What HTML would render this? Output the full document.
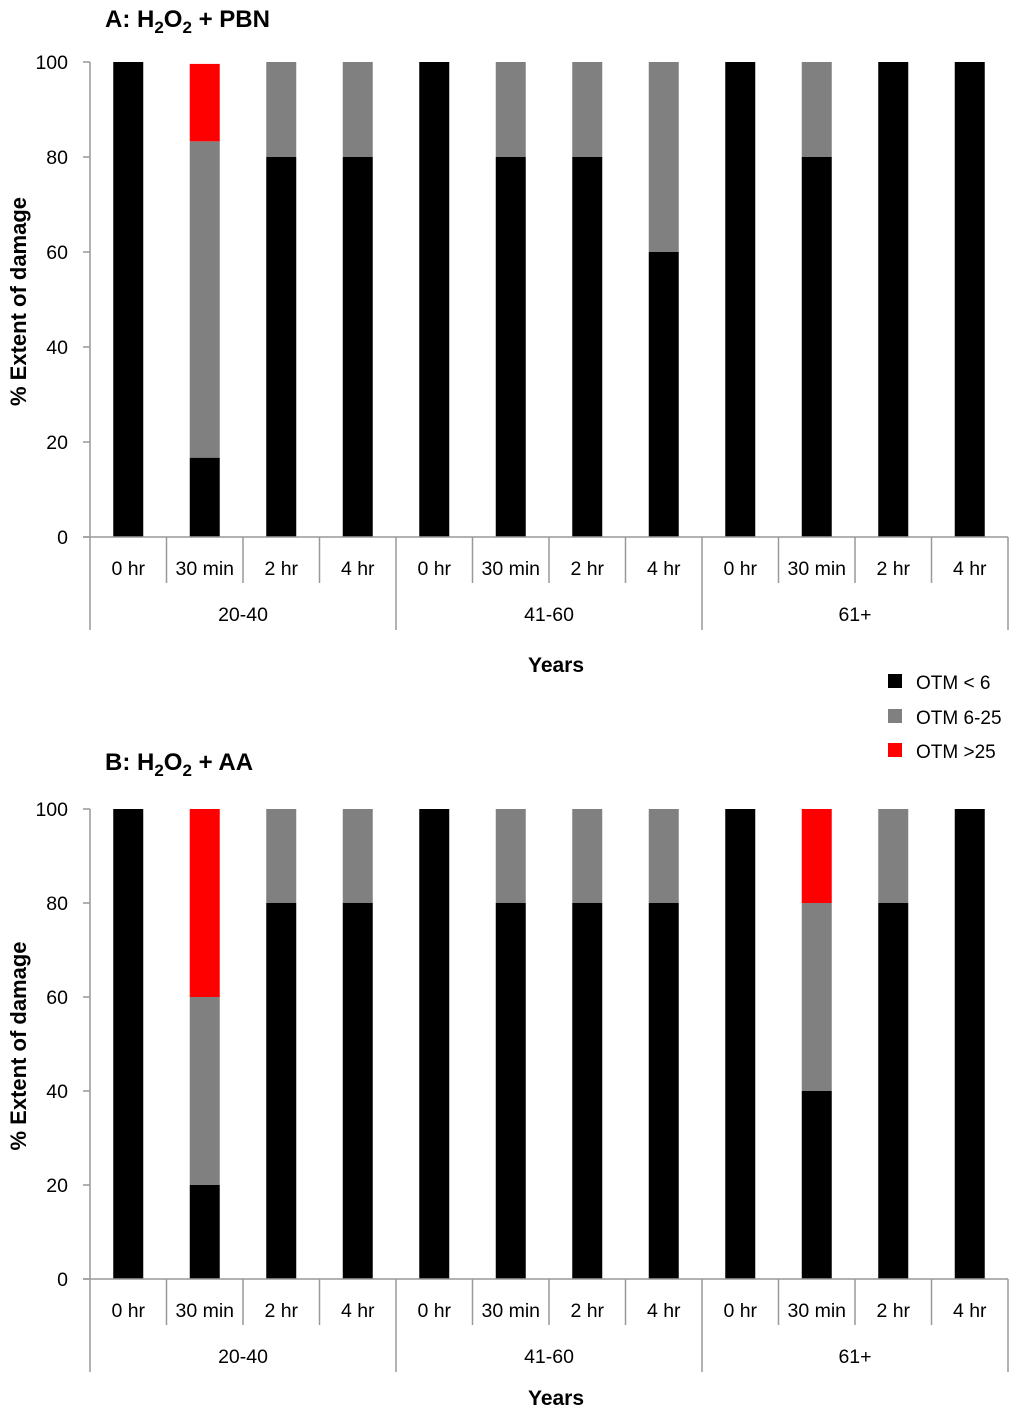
<!DOCTYPE html>
<html><head><meta charset="utf-8">
<style>
body{margin:0;background:#fff;}
svg{display:block;font-family:"Liberation Sans",sans-serif;}
</style></head>
<body>
<svg id="chart" width="1020" height="1414" viewBox="0 0 1020 1414">
<text x="105" y="27" font-size="24" font-weight="bold">A: H<tspan font-size="17" dy="6">2</tspan><tspan dy="-6">O</tspan><tspan font-size="17" dy="6">2</tspan><tspan dy="-6"> + PBN</tspan></text>
<text x="105" y="770" font-size="24" font-weight="bold">B: H<tspan font-size="17" dy="6">2</tspan><tspan dy="-6">O</tspan><tspan font-size="17" dy="6">2</tspan><tspan dy="-6"> + AA</tspan></text>
<g>
<rect x="888" y="674" width="14" height="14" fill="#000"/>
<text x="916" y="689" font-size="19">OTM &lt; 6</text>
<rect x="888" y="709" width="14" height="14" fill="#808080"/>
<text x="916" y="724" font-size="19">OTM 6-25</text>
<rect x="888" y="743" width="14" height="14" fill="#ff0000"/>
<text x="916" y="758" font-size="19">OTM &gt;25</text>
</g>
</svg>
<script>
const categories = ["0 hr","30 min","2 hr","4 hr","0 hr","30 min","2 hr","4 hr","0 hr","30 min","2 hr","4 hr"];
const groups = ["20-40","41-60","61+"];
const yTicks = [0,20,40,60,80,100];
const aBlack = [100,16.7,80,80,100,80,80,60,100,80,100,100];
const aGray  = [0,66.6,20,20,0,20,20,40,0,20,0,0];
const aRed   = [0,16.3,0,0,0,0,0,0,0,0,0,0];
const bBlack = [100,20,80,80,100,80,80,80,100,40,80,100];
const bGray  = [0,40,20,20,0,20,20,20,0,40,20,0];
const bRed   = [0,40,0,0,0,0,0,0,0,20,0,0];
const NS="http://www.w3.org/2000/svg";
const svg=document.getElementById('chart');
function mk(tag,attrs,parent){const e=document.createElementNS(NS,tag);for(const k in attrs)e.setAttribute(k,attrs[k]);(parent||svg).appendChild(e);return e;}
function panel(id,top,bottom,series,yearsY){
  const x0=90,x1=1008,step=(x1-x0)/categories.length,bw=30;
  const y=v=>bottom-(bottom-top)*v/100;
  const xc=i=>x0+step*(i+0.5);
  const g=mk('g',{});
  
  
  const colors=['#000','#808080','#ff0000'];
  const names=['otm-lt6','otm-6-25','otm-gt25'];
  categories.forEach((c,i)=>{
    let base=0;
    series.forEach((s,k)=>{
      if(s[i]>0){
        const r=mk('rect',{x:xc(i)-bw/2,y:y(base+s[i]),width:bw,height:y(base)-y(base+s[i]),fill:colors[k]},g);
        
        
      }
      base+=s[i];
    });
    const t=mk('text',{x:xc(i),y:bottom+38,'font-size':19.5,'text-anchor':'middle'},g);
    t.textContent=c;
    
    
  });
  const ax=mk('g',{stroke:'#999','stroke-width':1.5},g);
  
  
  mk('line',{x1:x0,y1:top,x2:x0,y2:bottom+93},ax);
  mk('line',{x1:x0-7,y1:bottom,x2:x1,y2:bottom},ax);
  yTicks.forEach(v=>{
    mk('line',{x1:x0-7,y1:y(v),x2:x0,y2:y(v)},ax);
    const t=mk('text',{x:68,y:y(v)+7,'font-size':19.5,'text-anchor':'end'},g);
    t.textContent=v;
    
    
  });
  for(let i=1;i<=categories.length;i++){
    const long=i%4===0;
    mk('line',{x1:x0+step*i,y1:bottom,x2:x0+step*i,y2:bottom+(long?93:46)},ax);
  }
  groups.forEach((gname,j)=>{
    const t=mk('text',{x:x0+step*(4*j+2),y:bottom+84,'font-size':19.5,'text-anchor':'middle'},g);
    t.textContent=gname;
    
    
  });
  const xt=mk('text',{x:556,y:yearsY,'font-size':21,'font-weight':'bold','text-anchor':'middle'},g);
  xt.textContent='Years';
  
  
  const cy=(top+bottom)/2+2;
  const yt=mk('text',{x:26,y:cy,'font-size':22,'font-weight':'bold','text-anchor':'middle',transform:'rotate(-90 26 '+cy+')'},g);
  yt.textContent='% Extent of damage';
  
  
}
panel('panel-a',62,537,[aBlack,aGray,aRed],672);
panel('panel-b',809,1279,[bBlack,bGray,bRed],1405);
</script>
</body></html>
